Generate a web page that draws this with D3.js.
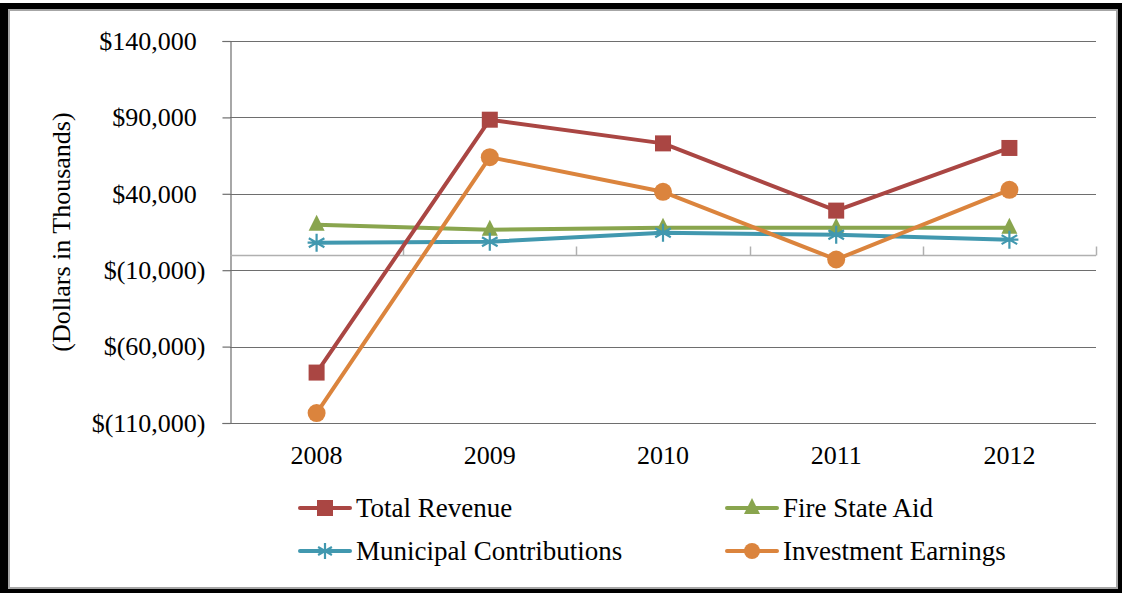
<!DOCTYPE html>
<html><head><meta charset="utf-8">
<script src="https://cdn.jsdelivr.net/npm/d3@7"></script>
<style>body{margin:0;background:#fff}svg{display:block}text{font-family:"Liberation Serif","DejaVu Serif",serif}</style>
</head><body><svg id="c" width="1122" height="593"></svg>
<script>
const years = ["2008","2009","2010","2011","2012"];
const totalRevenue = [-77000, 88500, 73000, 29000, 70000];
const fireStateAid = [19700, 16500, 17800, 17800, 17800];
const municipalContributions = [8000, 8600, 14500, 13200, 10000];
const investmentEarnings = [-103500, 64000, 41300, -3000, 42600];
const yTicks = [-110000, -60000, -10000, 40000, 90000, 140000];

const series = [
  {name:"Total Revenue", values:totalRevenue, color:"#AA4643", marker:"square"},
  {name:"Fire State Aid", values:fireStateAid, color:"#89A54E", marker:"triangle"},
  {name:"Municipal Contributions", values:municipalContributions, color:"#4198AF", marker:"star"},
  {name:"Investment Earnings", values:investmentEarnings, color:"#DB843D", marker:"circle"}
];
const drawOrder = [1,2,0,3];

const svg = d3.select("#c");
const font = "Liberation Serif";

// frame
svg.append("rect").attr("x",0).attr("y",3).attr("width",1122).attr("height",590).attr("fill","#000");
svg.append("rect").attr("x",9).attr("y",10).attr("width",1108).attr("height",578).attr("fill","#fff")
  .attr("stroke","#a6a6a6").attr("stroke-width",2);

const x = d3.scaleBand().domain(years).range([230,1096]).padding(0);
const y = d3.scaleLinear().domain([-110000,140000]).range([423,41]);

const fmt = v => v < 0 ? "$(" + d3.format(",")(-v) + ")" : "$" + d3.format(",")(v);

// gridlines
svg.append("g").selectAll("line").data(yTicks).join("line")
  .attr("x1",230).attr("x2",1096)
  .attr("y1",d=>Math.round(y(d))+0.5).attr("y2",d=>Math.round(y(d))+0.5)
  .attr("stroke","#6e6e6e").attr("stroke-width",1.2);

// y axis
const yAxis = d3.axisLeft(y).tickValues(yTicks).tickSize(8).tickPadding(17).tickFormat(fmt);
const gy = svg.append("g").attr("transform","translate(230.5,0)").call(yAxis);
gy.attr("font-family",null);
gy.select(".domain").attr("stroke","#6e6e6e").attr("stroke-width",1.2);
gy.selectAll(".tick line").attr("stroke","#6e6e6e").attr("stroke-width",1.2);
gy.selectAll(".tick text").style("font-family",font).attr("font-size",26).attr("fill","#000")
  .each(function(d){ if(d>=0){ d3.select(this).append("tspan").attr("fill-opacity",0).text(")"); } });

// x axis at zero
const y0 = Math.round(y(0))+0.5;
svg.append("line").attr("x1",230).attr("x2",1096).attr("y1",y0).attr("y2",y0)
  .attr("stroke","#b0b0b0").attr("stroke-width",1.5);
const edges = years.map(d=>x(d)+x.bandwidth());
svg.append("g").selectAll("line").data(edges).join("line")
  .attr("x1",d=>Math.round(d)+0.5).attr("x2",d=>Math.round(d)+0.5)
  .attr("y1",y0).attr("y2",y0-9).attr("stroke","#b0b0b0").attr("stroke-width",1.5);

// x labels
svg.append("g").selectAll("text").data(years).join("text")
  .attr("x",d=>x(d)+x.bandwidth()/2).attr("y",464)
  .attr("text-anchor","middle").style("font-family",font).attr("font-size",26).text(d=>d);

// y title
svg.append("text").attr("transform","translate(70,232) rotate(-90)")
  .attr("text-anchor","middle").style("font-family",font).attr("font-size",26).text("(Dollars in Thousands)");

function marker(g, type, color, cx, cy, s){
  if(type==="square"){
    g.append("rect").attr("x",cx-s/2).attr("y",cy-s/2).attr("width",s).attr("height",s).attr("fill",color);
  } else if(type==="circle"){
    g.append("circle").attr("cx",cx).attr("cy",cy).attr("r",s/2+1).attr("fill",color);
  } else if(type==="triangle"){
    const h=s;
    g.append("path").attr("d",`M${cx},${cy-h/2-2}L${cx+s/2},${cy+h/2-2}L${cx-s/2},${cy+h/2-2}Z`).attr("fill",color);
  } else if(type==="star"){
    const r=s/2+1;
    const p=[0,60,120].map(a=>{const t=a*Math.PI/180;return `M${cx-r*Math.sin(t)},${cy-r*Math.cos(t)}L${cx+r*Math.sin(t)},${cy+r*Math.cos(t)}`;}).join("")+`M${cx-r},${cy}L${cx+r},${cy}`;
    g.append("path").attr("d",p).attr("stroke",color).attr("stroke-width",2.2).attr("fill","none");
  }
}

const line = d3.line().x((d,i)=>x(years[i])+x.bandwidth()/2).y(d=>y(d));
drawOrder.forEach(k=>{
  const s = series[k];
  const g = svg.append("g");
  g.append("path").attr("d",line(s.values)).attr("fill","none").attr("stroke",s.color)
    .attr("stroke-width",4).attr("stroke-linejoin","round").attr("stroke-linecap","round");
  s.values.forEach((v,i)=>marker(g,s.marker,s.color,x(years[i])+x.bandwidth()/2,y(v),16));
});

// legend
const legPos = [[300,508],[727,508],[300,551],[727,551]];
series.forEach((s,i)=>{
  const [lx,ly]=legPos[i];
  const g=svg.append("g");
  g.append("line").attr("x1",lx).attr("x2",lx+50).attr("y1",ly).attr("y2",ly)
    .attr("stroke",s.color).attr("stroke-width",4).attr("stroke-linecap","round");
  marker(g,s.marker,s.color,lx+25,ly,s.marker==="circle"?14:(s.marker==="star"?14:16));
  g.append("text").attr("x",lx+56).attr("y",ly+9).style("font-family",font).attr("font-size",27).text(s.name);
});
</script></body></html>
